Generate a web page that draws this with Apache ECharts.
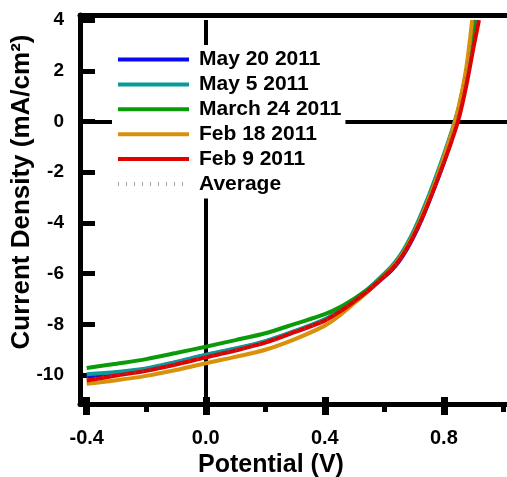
<!DOCTYPE html>
<html>
<head>
<meta charset="utf-8">
<script src="https://cdn.jsdelivr.net/npm/echarts@6/dist/echarts.min.js"></script>
<style>
  html, body { margin: 0; padding: 0; background: #fff; }
  #chart { width: 507px; height: 477px; }
</style>
</head>
<body>
<div id="chart"></div>
<script>
// axis range and tick labels
const xMin = -0.4225, xMax = 1.012
const yMin = -11.14, yMax = 4.2
const xMajorTicks = [-0.4, 0, 0.4, 0.8]
const xMinorTicks = [-0.2, 0.2, 0.6, 1.0]
const yTicks = [-10, -8, -6, -4, -2, 0, 2, 4]

// [potential V, current density mA/cm2]
const may20 = [[-0.4, -10.06], [-0.3, -9.92], [-0.2, -9.76], [-0.1, -9.5], [0, -9.22], [0.1, -8.97], [0.2, -8.68], [0.3, -8.28], [0.4, -7.82], [0.45, -7.48], [0.5, -7.05], [0.55, -6.62], [0.6, -6.12], [0.625, -5.85], [0.65, -5.5], [0.675, -5.05], [0.7, -4.5], [0.725, -3.87], [0.75, -3.15], [0.775, -2.4], [0.8, -1.6], [0.825, -0.72], [0.85, 0.3], [0.875, 1.75], [0.9, 3.5], [0.906, 4]]
const may5 = [[-0.4, -9.97], [-0.3, -9.88], [-0.2, -9.74], [-0.1, -9.48], [0, -9.2], [0.1, -8.95], [0.2, -8.66], [0.3, -8.26], [0.4, -7.8], [0.45, -7.45], [0.5, -7.0], [0.55, -6.55], [0.6, -6.0], [0.625, -5.7], [0.65, -5.33], [0.675, -4.85], [0.7, -4.28], [0.725, -3.62], [0.75, -2.9], [0.775, -2.12], [0.8, -1.3], [0.825, -0.42], [0.85, 0.55], [0.875, 1.85], [0.9, 3.3], [0.912, 4]]
const march24 = [[-0.4, -9.72], [-0.3, -9.55], [-0.2, -9.37], [-0.1, -9.13], [0, -8.88], [0.1, -8.62], [0.2, -8.35], [0.3, -7.98], [0.4, -7.6], [0.45, -7.33], [0.5, -6.98], [0.55, -6.58], [0.6, -6.05], [0.625, -5.75], [0.65, -5.4], [0.675, -4.93], [0.7, -4.38], [0.725, -3.73], [0.75, -3.02], [0.775, -2.25], [0.8, -1.43], [0.825, -0.55], [0.85, 0.5], [0.875, 1.95], [0.9, 3.7], [0.904, 4]]
const feb18 = [[-0.4, -10.34], [-0.3, -10.2], [-0.2, -10.03], [-0.1, -9.8], [0, -9.53], [0.1, -9.28], [0.2, -9.0], [0.3, -8.58], [0.4, -8.05], [0.45, -7.65], [0.5, -7.15], [0.55, -6.65], [0.6, -6.08], [0.625, -5.77], [0.65, -5.42], [0.675, -4.95], [0.7, -4.4], [0.725, -3.75], [0.75, -3.03], [0.775, -2.25], [0.8, -1.4], [0.825, -0.5], [0.85, 0.6], [0.875, 2.1], [0.895, 4]]
const feb9 = [[-0.4, -10.21], [-0.3, -10.02], [-0.2, -9.83], [-0.1, -9.58], [0, -9.3], [0.1, -9.03], [0.2, -8.72], [0.3, -8.3], [0.4, -7.85], [0.45, -7.5], [0.5, -7.08], [0.55, -6.63], [0.6, -6.1], [0.625, -5.82], [0.65, -5.47], [0.675, -5.02], [0.7, -4.47], [0.725, -3.85], [0.75, -3.15], [0.775, -2.4], [0.8, -1.62], [0.825, -0.8], [0.85, 0.12], [0.875, 1.4], [0.9, 2.95], [0.918, 4]]
const average = [[-0.4, -10.12], [-0.3, -9.97], [-0.2, -9.8], [-0.1, -9.55], [0, -9.27], [0.1, -9.0], [0.2, -8.7], [0.3, -8.3], [0.4, -7.83], [0.45, -7.48], [0.5, -7.05], [0.55, -6.6], [0.6, -6.07], [0.625, -5.78], [0.65, -5.44], [0.675, -4.96], [0.7, -4.4], [0.725, -3.76], [0.75, -3.05], [0.775, -2.28], [0.8, -1.47], [0.825, -0.6], [0.85, 0.41], [0.875, 1.81], [0.9, 3.4], [0.908, 4]]

const seriesNames = ['May 20 2011', 'May 5 2011', 'March 24 2011', 'Feb 18 2011', 'Feb 9 2011', 'Average']

const font = '"Liberation Sans", Arial, sans-serif'

let chart = echarts.init(document.getElementById('chart'))

function curve (name, data, color) {
    return {
        name: name,
        type: 'line',
        xAxisIndex: 0,
        yAxisIndex: 0,
        data: data,
        symbol: 'none',
        smooth: 0.3,
        z: 3,
        lineStyle: { color: color, width: 4 },
        itemStyle: { color: color }
    }
}

let option = {
    animation: false,
    backgroundColor: '#fff',
    grid: [
        { left: 80, right: 0, top: 15, bottom: 73 },
        { left: 80, right: 0, top: 15, bottom: 73 }
    ],
    xAxis: [
        {
            // main bottom axis: line, minor ticks, labels
            gridIndex: 0,
            type: 'value',
            position: 'bottom',
            min: xMin,
            max: xMax,
            axisLine: { show: true, onZero: false, lineStyle: { color: '#000', width: 5 } },
            axisTick: { show: true, customValues: xMinorTicks, length: 8, lineStyle: { color: '#000', width: 5 } },
            axisLabel: {
                customValues: xMajorTicks,
                margin: 24,
                color: '#000',
                fontSize: 20,
                fontWeight: 'bold',
                fontFamily: font,
                formatter: (v) => v.toFixed(1)
            },
            splitLine: { show: false }
        },
        {
            // top frame line
            gridIndex: 0,
            type: 'value',
            position: 'top',
            min: xMin,
            max: xMax,
            axisLine: { show: true, onZero: false, lineStyle: { color: '#000', width: 5 } },
            axisTick: { show: false },
            axisLabel: { show: false },
            splitLine: { show: false }
        },
        {
            // major ticks crossing the bottom axis
            gridIndex: 1,
            type: 'value',
            position: 'bottom',
            offset: -7,
            min: xMin,
            max: xMax,
            axisLine: { show: false, onZero: false },
            axisTick: { show: true, customValues: xMajorTicks, length: 18, lineStyle: { color: '#000', width: 7 } },
            axisLabel: { show: false },
            splitLine: { show: false }
        }
    ],
    yAxis: [
        {
            gridIndex: 0,
            type: 'value',
            min: yMin,
            max: yMax,
            axisLine: { show: true, onZero: false, lineStyle: { color: '#000', width: 5 } },
            axisTick: { show: true, inside: true, customValues: yTicks, length: 15, lineStyle: { color: '#000', width: 5 } },
            axisLabel: {
                customValues: yTicks,
                margin: 16,
                color: '#000',
                fontSize: 19,
                fontWeight: 'bold',
                fontFamily: font
            },
            splitLine: { show: false }
        },
        {
            gridIndex: 1,
            type: 'value',
            min: yMin,
            max: yMax,
            show: false
        }
    ],
    legend: {
        data: seriesNames,
        orient: 'vertical',
        left: 112,
        top: 45,
        padding: [4, 4, 4, 4],
        backgroundColor: '#fff',
        itemWidth: 71,
        itemHeight: 20,
        itemGap: 3.9,
        itemStyle: { opacity: 0 },
        lineStyle: { width: 4 },
        textStyle: {
            color: '#000',
            fontSize: 21,
            fontWeight: 'bold',
            fontFamily: font,
            padding: [0, 0, 0, 5]
        }
    },
    graphic: [
        {
            type: 'text',
            x: 22,
            y: 192,
            rotation: Math.PI / 2,
            style: {
                text: 'Current Density (mA/cm²)',
                fill: '#000',
                font: 'bold 26px ' + font,
                textAlign: 'center',
                textVerticalAlign: 'middle'
            }
        },
        {
            type: 'text',
            x: 271,
            y: 465,
            style: {
                text: 'Potential (V)',
                fill: '#000',
                font: 'bold 25px ' + font,
                textAlign: 'center',
                textVerticalAlign: 'middle'
            }
        }
    ],
    series: [
        {
            // zero lines
            name: 'zero',
            type: 'line',
            data: [],
            z: 1,
            silent: true,
            markLine: {
                z: 1,
                silent: true,
                symbol: 'none',
                label: { show: false },
                lineStyle: { color: '#000', width: 4, type: 'solid' },
                data: [
                    { yAxis: 0 },
                    [{ coord: [0, yMax - 0.2] }, { coord: [0, yMin] }]
                ]
            }
        },
        curve('May 20 2011', may20, '#0a0af0'),
        curve('May 5 2011', may5, '#0a9a9a'),
        curve('March 24 2011', march24, '#0a9a0a'),
        curve('Feb 18 2011', feb18, '#d9900a'),
        curve('Feb 9 2011', feb9, '#e00000'),
        {
            name: 'Average',
            type: 'line',
            data: average,
            symbol: 'none',
            smooth: 0.3,
            z: 4,
            lineStyle: { color: '#666', width: 4, type: [1, 7], opacity: 0.6 },
            itemStyle: { color: '#666' }
        }
    ]
}

option && chart.setOption(option)
</script>
</body>
</html>
